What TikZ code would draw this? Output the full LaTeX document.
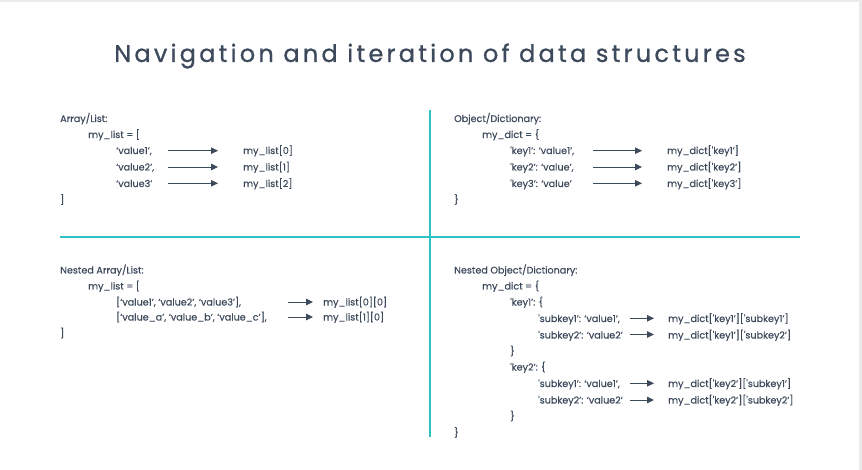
\documentclass[tikz,border=0pt]{standalone}
\usepackage{fontspec}
\setmainfont{Poppins}
\usepackage{xcolor}
\usetikzlibrary{arrows.meta,positioning}
\definecolor{ink}{HTML}{3D4A5C}
\definecolor{tealline}{HTML}{2EC4C6}
\definecolor{edgegray}{HTML}{EBEBEB}
\newcommand{\sq}{\textquotesingle}

\begin{document}
\begin{tikzpicture}[x=1pt, y=-1pt,
    txt/.style={anchor=base west, inner sep=0pt, text=ink, font=\fontsize{9.6}{11}\selectfont\addfontfeature{FakeBold=0.3}},
    ttl/.style={inner sep=0pt, text=ink, font=\fontsize{24}{27}\selectfont\addfontfeature{LetterSpace=13.5,FakeBold=0.9}},
    arr/.style={-{Triangle[length=7pt, width=6.5pt]}, draw=ink, line width=0.9pt},
    divider/.style={draw=tealline, line width=2.2pt}
]
\useasboundingbox (0,0) rectangle (862,470);
\fill[edgegray] (0,0) rectangle (862,2);
\fill[edgegray] (859,0) rectangle (862,470);

\node[ttl] (title) at (430,56) {Navigation and iteration of data structures};

% dividers
\draw[divider] (430,110) -- (430,437);
\draw[divider] (60,237) -- (800,237);

% Array/List
\node[txt] (arrhead) at (60,122) {Array/List:};
\node[txt] (arropen) at (88,138) {my\_list = [};
\node[txt] (arrv1) at (116,154) {‘value1’,};
\node[txt] (arrv2) at (116,170.5) {‘value2’,};
\node[txt] (arrv3) at (116,187) {‘value3’};
\node[txt] (arrr1) at (243,154) {my\_list[0]};
\node[txt] (arrr2) at (243,170.5) {my\_list[1]};
\node[txt] (arrr3) at (243,187) {my\_list[2]};
\node[txt] (arrclose) at (60,203) {]};
\coordinate (arra1) at (168,150.7);
\coordinate (arra2) at (168,167);
\coordinate (arra3) at (168,183.3);
\draw[arr, shorten >=25pt] (arra1) -- (arra1 -| arrr1.west);
\draw[arr, shorten >=25pt] (arra2) -- (arra2 -| arrr2.west);
\draw[arr, shorten >=25pt] (arra3) -- (arra3 -| arrr3.west);

% Object/Dictionary
\node[txt] (objhead) at (454,122) {Object/Dictionary:};
\node[txt] (objopen) at (482,138) {my\_dict = \{};
\node[txt] (objv1) at (510,154) {\sq key1’: ‘value1’,};
\node[txt] (objv2) at (510,170.5) {\sq key2’: ‘value’,};
\node[txt] (objv3) at (510,187) {\sq key3’: ‘value’};
\node[txt] (objr1) at (667,154) {my\_dict[\sq key1’]};
\node[txt] (objr2) at (667,170.5) {my\_dict[\sq key2’]};
\node[txt] (objr3) at (667,187) {my\_dict[\sq key3’]};
\node[txt] (objclose) at (454,203) {\}};
\coordinate (obja1) at (593,150.7);
\coordinate (obja2) at (593,167);
\coordinate (obja3) at (593,183.3);
\draw[arr, shorten >=25pt] (obja1) -- (obja1 -| objr1.west);
\draw[arr, shorten >=25pt] (obja2) -- (obja2 -| objr2.west);
\draw[arr, shorten >=25pt] (obja3) -- (obja3 -| objr3.west);

% Nested Array/List
\node[txt] (narrhead) at (60,273.5) {Nested Array/List:};
\node[txt] (narropen) at (88,289.5) {my\_list = [};
\node[txt] (narrv1) at (116,305.5) {[‘value1’, ‘value2’, ‘value3’],};
\node[txt] (narrv2) at (116,320.5) {[‘value\_a’, ‘value\_b’, ‘value\_c’],};
\node[txt] (narrr1) at (323,305.5) {my\_list[0][0]};
\node[txt] (narrr2) at (323,320.5) {my\_list[1][0]};
\node[txt] (narrclose) at (60,336.5) {]};
\coordinate (narra1) at (288,302);
\coordinate (narra2) at (288,317);
\draw[arr, shorten >=10pt] (narra1) -- (narra1 -| narrr1.west);
\draw[arr, shorten >=10pt] (narra2) -- (narra2 -| narrr2.west);

% Nested Object/Dictionary
\node[txt] (nobjhead) at (454,273.5) {Nested Object/Dictionary:};
\node[txt] (nobjopen) at (482,289.5) {my\_dict = \{};
\node[txt] (nobjk1) at (510,305.5) {\sq key1’: \{};
\node[txt] (nobjv1) at (538,322) {\sq subkey1’: ‘value1’,};
\node[txt] (nobjv2) at (538,338.5) {\sq subkey2’: ‘value2’};
\node[txt] (nobjc1) at (510,354.5) {\}};
\node[txt] (nobjk2) at (510,370.5) {\sq key2’: \{};
\node[txt] (nobjv3) at (538,387) {\sq subkey1’: ‘value1’,};
\node[txt] (nobjv4) at (538,403.5) {\sq subkey2’: ‘value2’};
\node[txt] (nobjc2) at (510,419.5) {\}};
\node[txt] (nobjclose) at (454,436) {\}};
\node[txt] (nobjr1) at (668,322) {my\_dict[\sq key1’][\sq subkey1’]};
\node[txt] (nobjr2) at (668,338.5) {my\_dict[\sq key1’][\sq subkey2’]};
\node[txt] (nobjr3) at (668,387) {my\_dict[\sq key2’][\sq subkey1’]};
\node[txt] (nobjr4) at (668,403.5) {my\_dict[\sq key2’][\sq subkey2’]};
\coordinate (nobja1) at (630,318.3);
\coordinate (nobja2) at (630,334.5);
\coordinate (nobja3) at (630,383.3);
\coordinate (nobja4) at (630,400);
\draw[arr, shorten >=14pt] (nobja1) -- (nobja1 -| nobjr1.west);
\draw[arr, shorten >=14pt] (nobja2) -- (nobja2 -| nobjr2.west);
\draw[arr, shorten >=14pt] (nobja3) -- (nobja3 -| nobjr3.west);
\draw[arr, shorten >=14pt] (nobja4) -- (nobja4 -| nobjr4.west);
\end{tikzpicture}
\end{document}
